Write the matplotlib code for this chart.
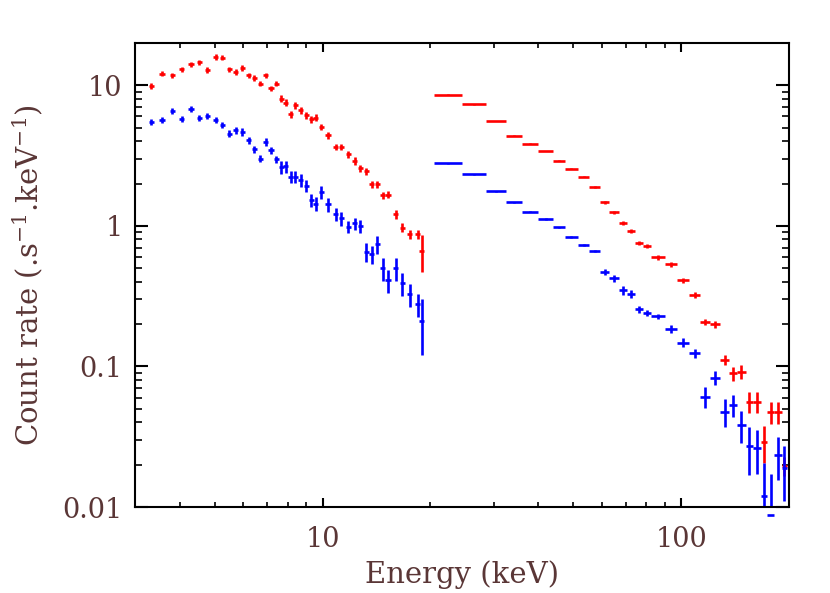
import numpy as np
import matplotlib
matplotlib.use('Agg')
import matplotlib.pyplot as plt
from matplotlib.ticker import LogLocator, FixedLocator, FixedFormatter, NullFormatter

TEXT_COLOR = '#5a3636'
RED = '#ff0000'
BLUE = '#0000ff'

# low-energy spectrum (keV), both instruments share the same energy grid
low_energy = [3.33, 3.57, 3.81, 4.05, 4.30, 4.53, 4.77, 5.03, 5.26, 5.50,
              5.73, 5.97, 6.22, 6.45, 6.71, 6.94, 7.18, 7.43, 7.67, 7.90,
              8.16, 8.39, 8.70, 9.01, 9.30, 9.58, 9.92, 10.35, 10.87, 11.29,
              11.79, 12.28, 12.76, 13.24, 13.72, 14.21, 14.72, 15.24, 16.0, 16.7,
              17.5, 18.4, 18.9]
low_red = [9.89, 12.1, 11.8, 13.0, 14.1, 14.6, 12.85, 15.9, 15.75, 13.0,
           12.4, 13.3, 11.8, 11.3, 10.3, 11.8, 9.5, 10.3, 8.04, 7.53,
           6.22, 7.2, 6.64, 6.12, 5.73, 5.89, 5.05, 4.41, 3.64, 3.64,
           3.23, 2.9, 2.56, 2.45, 1.97, 1.97, 1.65, 1.67, 1.21, 0.97,
           0.87, 0.87, 0.665]
low_red_relerr = [0.045] * 18 + [0.055] * 12 + [0.06] * 8 + [0.075] * 4 + [0.29]
low_blue = [5.48, 5.70, 6.53, 5.80, 6.75, 5.89, 6.02, 5.64, 5.26, 4.54,
            4.79, 4.66, 4.06, 3.51, 3.01, 3.95, 3.45, 2.98, 2.62, 2.65,
            2.23, 2.23, 2.11, 1.93, 1.52, 1.44, 1.74, 1.42, 1.21, 1.13,
            0.987, 1.04, 0.994, 0.654, 0.63, 0.74, 0.50, 0.41, 0.50, 0.39,
            0.325, 0.276, 0.21]
low_blue_relerr = ([0.05] * 9 + [0.06] * 9 + [0.1] * 6 + [0.11] * 6
                   + [0.1] * 3 + [0.15] * 3 + [0.19] * 6 + [0.43])
low_xerr_frac = 0.017

# high-energy spectrum, bin edges in keV
high_edges = [20.5, 24.5, 28.5, 32.5, 36.0, 40.0, 44.0, 47.5, 51.5, 55.5,
              59.5, 63.0, 67.0, 70.5, 74.5, 78.5, 82.5, 90.0, 97.5, 105.5,
              113.0, 120.5, 128.5, 136.0, 143.0, 151.5, 158.5, 166.5, 174.0, 181.5,
              190.5, 197.0]
high_red = [8.59, 7.33, 5.57, 4.39, 3.85, 3.41, 2.91, 2.54, 2.23, 1.89,
            1.47, 1.25, 1.05, 0.92, 0.756, 0.72, 0.596, 0.534, 0.411, 0.322,
            0.208, 0.199, 0.111, 0.0893, 0.0917, 0.056, 0.0561, 0.029, 0.0477, 0.0477,
            0.0197]
high_red_err = [0.04, 0.035, 0.03, 0.025, 0.02, 0.02, 0.02, 0.02, 0.02, 0.02,
                0.04, 0.035, 0.035, 0.03, 0.025, 0.025, 0.02, 0.02, 0.018, 0.016,
                0.011, 0.011, 0.009, 0.0104, 0.01, 0.0095, 0.0095, 0.0085, 0.0086, 0.0086,
                0.003]
high_blue = [2.78, 2.33, 1.77, 1.47, 1.26, 1.12, 0.975, 0.836, 0.73, 0.664,
             0.471, 0.423, 0.349, 0.327, 0.255, 0.241, 0.228, 0.184, 0.148, 0.124,
             0.061, 0.083, 0.0477, 0.0532, 0.0384, 0.027, 0.0263, 0.0119, 0.0088, 0.0236,
             0.0191]
high_blue_err = [0.02, 0.018, 0.015, 0.014, 0.013, 0.012, 0.012, 0.012, 0.012, 0.012,
                 0.025, 0.022, 0.025, 0.022, 0.014, 0.013, 0.01, 0.012, 0.011, 0.01,
                 0.0105, 0.0095, 0.0105, 0.0095, 0.0098, 0.0102, 0.009, 0.0086, 0.0083, 0.008,
                 0.008]

YMIN, YMAX = 0.01, 20.0
LW = 1.9

plt.rcParams['font.family'] = 'DejaVu Serif'
plt.rcParams['mathtext.fontset'] = 'dejavuserif'

fig = plt.figure(figsize=(8.3, 5.93), dpi=100)
ax = fig.add_axes([0.1627, 0.145, 0.788, 0.7825])


def draw_low(energy, rate, relerr, color):
    e = np.array(energy)
    r = np.array(rate)
    ax.errorbar(e, r, xerr=e * low_xerr_frac, yerr=r * np.array(relerr),
                fmt='none', ecolor=color, elinewidth=LW, capsize=0)


def draw_high(edges, rate, err, color):
    edges = np.array(edges)
    lo, hi = edges[:-1], edges[1:]
    mid = np.sqrt(lo * hi)
    r = np.array(rate)
    ax.errorbar(mid, r, xerr=[mid - lo, hi - mid], yerr=np.array(err),
                fmt='none', ecolor=color, elinewidth=LW, capsize=0)
    # bins that fall below the axis still show their horizontal bar
    below = r < YMIN
    if below.any():
        ax.hlines(r[below], lo[below], hi[below], colors=color,
                  linewidth=LW, clip_on=False)


draw_low(low_energy, low_red, low_red_relerr, RED)
draw_low(low_energy, low_blue, low_blue_relerr, BLUE)
draw_high(high_edges, high_red, high_red_err, RED)
draw_high(high_edges, high_blue, high_blue_err, BLUE)

ax.set_xscale('log')
ax.set_yscale('log')
ax.set_xlim(3.0, 200.0)
ax.set_ylim(YMIN, YMAX)

ax.xaxis.set_major_locator(FixedLocator([10, 100]))
ax.xaxis.set_major_formatter(FixedFormatter(['10', '100']))
ax.xaxis.set_minor_locator(LogLocator(base=10, subs=np.arange(2, 10)))
ax.xaxis.set_minor_formatter(NullFormatter())
ax.yaxis.set_major_locator(FixedLocator([0.01, 0.1, 1, 10]))
ax.yaxis.set_major_formatter(FixedFormatter(['0.01', '0.1', '1', '10']))
ax.yaxis.set_minor_locator(LogLocator(base=10, subs=np.arange(2, 10)))
ax.yaxis.set_minor_formatter(NullFormatter())

ax.tick_params(axis='both', which='both', direction='in', top=True, right=True,
               colors='black', labelcolor=TEXT_COLOR, labelsize=19.5)
ax.tick_params(axis='x', which='major', length=6.7, width=1.5, pad=14)
ax.tick_params(axis='x', which='minor', length=3.3, width=1.2)
ax.tick_params(axis='y', which='major', length=9.4, width=1.5, pad=9)
ax.tick_params(axis='y', which='minor', length=4.7, width=1.2)
for spine in ax.spines.values():
    spine.set_linewidth(1.5)

ax.set_xlabel('Energy (keV)', fontsize=21, color=TEXT_COLOR)
ax.set_ylabel(r'Count rate (.s$^{-1}$.keV$^{-1}$)', fontsize=21, color=TEXT_COLOR)
ax.xaxis.set_label_coords(0.5, -0.115)
ax.yaxis.set_label_coords(-0.138, 0.5)

fig.savefig('out.png', dpi=100)
